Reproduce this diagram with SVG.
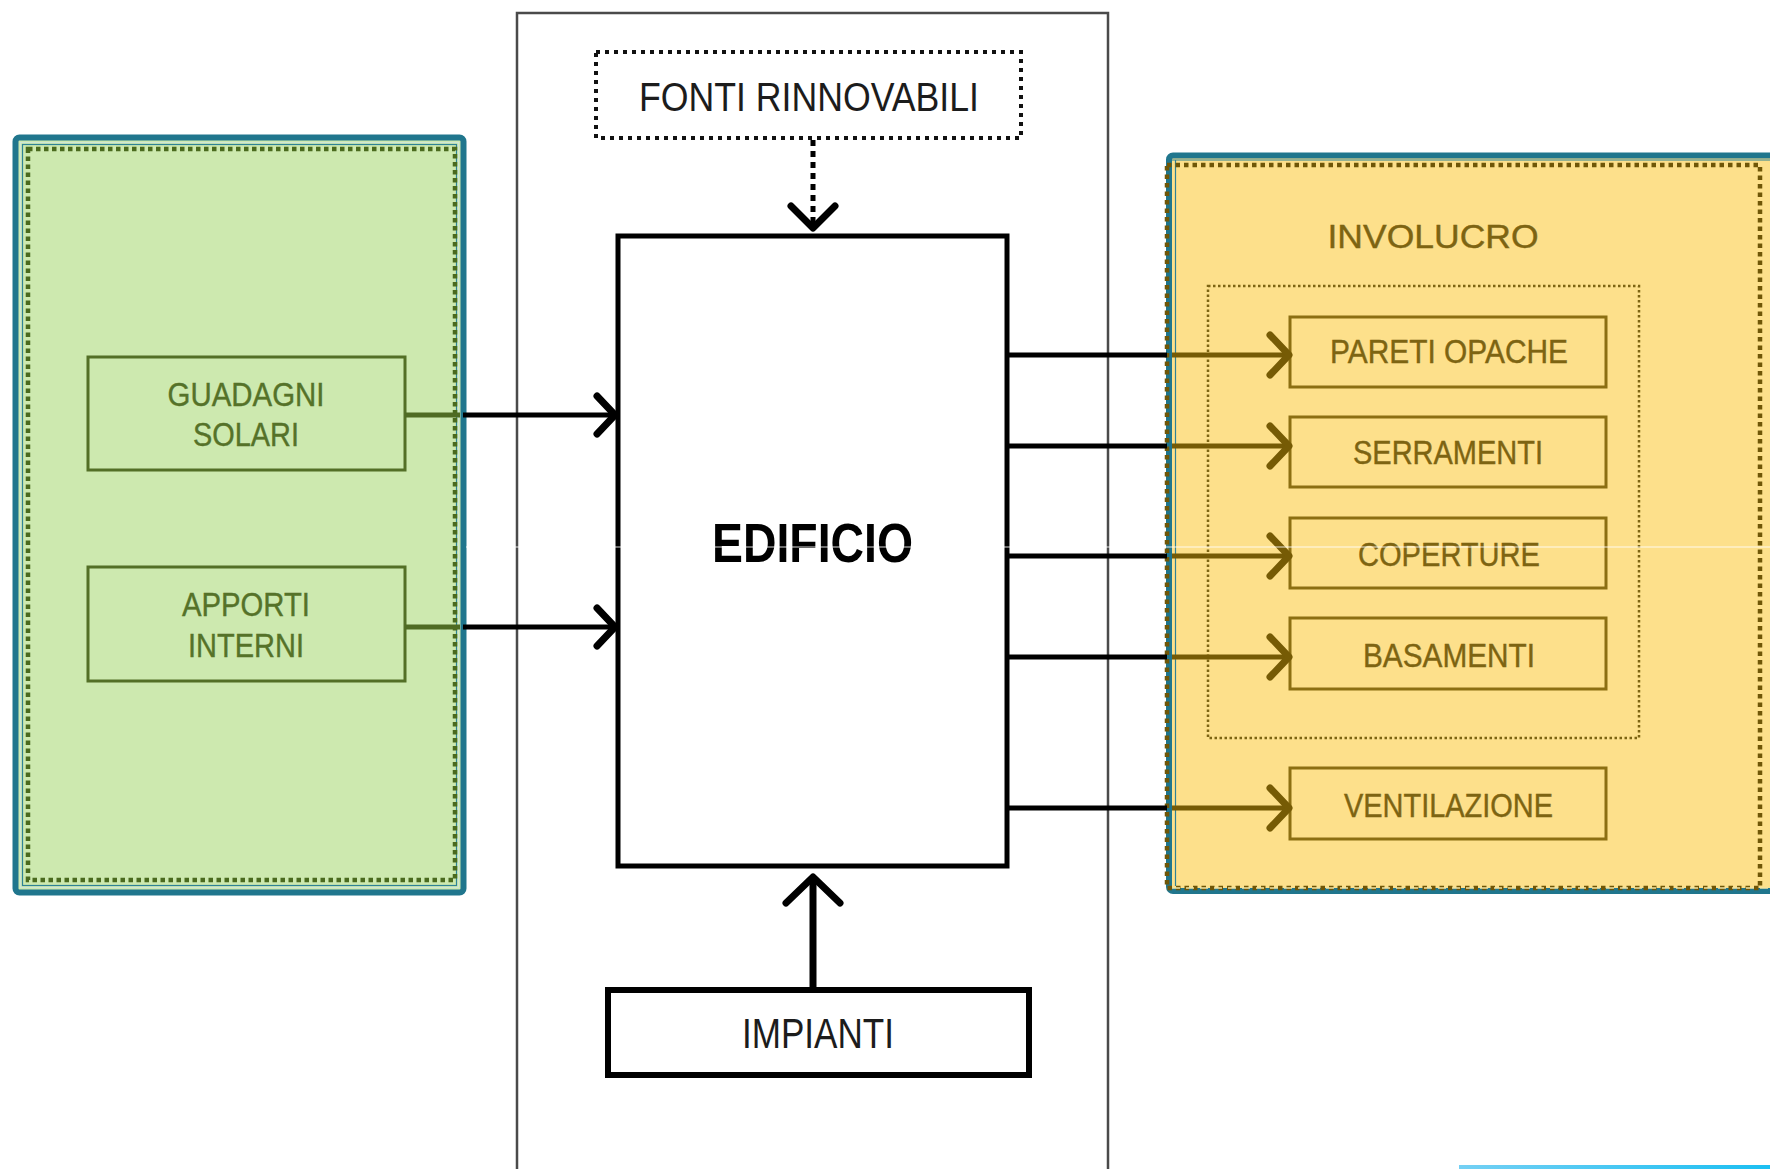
<svg xmlns="http://www.w3.org/2000/svg" width="1770" height="1169" viewBox="0 0 1770 1169">
  <defs>
    <style>
      text { font-family: 'Liberation Sans', Arial, sans-serif; text-anchor: middle; }
      .frame { fill: none; stroke: #4a4a4a; stroke-width: 2.5; }
      .teal { stroke: #20768d; stroke-width: 6; }
      .gbox { fill: none; stroke: #536f26; stroke-width: 3; }
      .gtxt { font-size: 34px; fill: #557229; stroke: #557229; stroke-width: 0.4; }
      .ybox { fill: none; stroke: #8c6f12; stroke-width: 3; }
      .ytxt { font-size: 33px; fill: #7d6412; stroke: #7d6412; stroke-width: 0.4; }
      .btxt { fill: #1c1c1c; }
      .blk { fill: none; stroke: #000; stroke-width: 5; }
      .gline { fill: none; stroke: #4f6b23; stroke-width: 5; }
      .oline { fill: none; stroke: #765b05; stroke-width: 5; }
      .ohead { fill: none; stroke: #765b05; stroke-width: 7; stroke-linecap: round; stroke-linejoin: round; }
      .bhead { fill: none; stroke: #000; stroke-width: 7; stroke-linecap: round; stroke-linejoin: round; }
    </style>
    <linearGradient id="strip" x1="0" y1="0" x2="1" y2="0">
      <stop offset="0" stop-color="#74d0f4"/>
      <stop offset="1" stop-color="#1bbff2"/>
    </linearGradient>
  </defs>

  <rect width="1770" height="1169" fill="#ffffff"/>

  <!-- central frame holding the building system -->
  <rect id="frame" class="frame" x="517" y="13" width="591" height="1170"/>

  <!-- free gains panel (left) -->
  <g id="panel-gains">
    <rect class="teal" x="15.5" y="137.5" width="448" height="755" rx="4" fill="#cde9af"/>
    <rect x="20.5" y="142.5" width="438" height="745" fill="none" stroke="#cfe6d6" stroke-width="1.2"/>
    <rect x="22.5" y="144.5" width="434" height="741" fill="none" stroke="#2f8296" stroke-width="1.2"/>
    <rect x="28" y="149" width="427" height="731" fill="none" stroke="#4a6a1e" stroke-width="4.5" stroke-dasharray="4.5 3.5"/>
  </g>

  <!-- envelope panel (right) -->
  <g id="panel-envelope">
    <rect class="teal" x="1169" y="155.5" width="640" height="735.5" rx="4" fill="#fde08b"/>
    <line x1="1175.5" y1="160" x2="1175.5" y2="886" stroke="#2f8296" stroke-width="1.2"/>
    <line x1="1172" y1="160" x2="1770" y2="160" stroke="#2f8296" stroke-width="1.2"/>
    <path d="M1167 165 H1760 V888 H1167 Z" fill="none" stroke="#6f5607" stroke-width="4.5" stroke-dasharray="4.5 4"/>
    <line x1="1172" y1="888" x2="1770" y2="888" stroke="#f1e3a3" stroke-width="1.5" stroke-dasharray="8 6"/>
  </g>

  <g id="guadagni-solari">
    <rect class="gbox" x="88" y="357" width="317" height="113"/>
    <text class="gtxt" x="246" y="406" textLength="157" lengthAdjust="spacingAndGlyphs">GUADAGNI</text>
    <text class="gtxt" x="246" y="446" textLength="106" lengthAdjust="spacingAndGlyphs">SOLARI</text>
  </g>

  <g id="apporti-interni">
    <rect class="gbox" x="88" y="567" width="317" height="114"/>
    <text class="gtxt" x="246" y="616" textLength="128" lengthAdjust="spacingAndGlyphs">APPORTI</text>
    <text class="gtxt" x="246" y="657" textLength="116" lengthAdjust="spacingAndGlyphs">INTERNI</text>
  </g>

  <g id="fonti-rinnovabili">
    <rect x="596" y="52" width="425" height="86" fill="none" stroke="#111" stroke-width="4" stroke-dasharray="4 5"/>
    <text class="btxt" x="809" y="111" font-size="40" textLength="340" lengthAdjust="spacingAndGlyphs">FONTI RINNOVABILI</text>
  </g>

  <g id="edificio">
    <rect x="618" y="236" width="389" height="630" fill="#ffffff" stroke="#000" stroke-width="5"/>
    <text x="812.5" y="562" font-size="56" font-weight="bold" fill="#000" textLength="201" lengthAdjust="spacingAndGlyphs">EDIFICIO</text>
  </g>

  <g id="impianti">
    <rect x="608" y="990" width="421" height="85" fill="#ffffff" stroke="#000" stroke-width="6"/>
    <text class="btxt" x="818" y="1048" font-size="42" textLength="152" lengthAdjust="spacingAndGlyphs">IMPIANTI</text>
  </g>

  <g id="involucro">
    <text class="ytxt" x="1433" y="248" font-size="39" textLength="211" lengthAdjust="spacingAndGlyphs">INVOLUCRO</text>
    <rect x="1208" y="286" width="431" height="452" fill="none" stroke="#7d6412" stroke-width="2.5" stroke-dasharray="2.5 2.5"/>
  </g>

  <g id="pareti-opache">
    <rect class="ybox" x="1290" y="317" width="316" height="70"/>
    <text class="ytxt" x="1449" y="363" textLength="238" lengthAdjust="spacingAndGlyphs">PARETI OPACHE</text>
  </g>
  <g id="serramenti">
    <rect class="ybox" x="1290" y="417" width="316" height="70"/>
    <text class="ytxt" x="1448" y="464" textLength="190" lengthAdjust="spacingAndGlyphs">SERRAMENTI</text>
  </g>
  <g id="coperture">
    <rect class="ybox" x="1290" y="518" width="316" height="70"/>
    <text class="ytxt" x="1449" y="566" textLength="182" lengthAdjust="spacingAndGlyphs">COPERTURE</text>
  </g>
  <g id="basamenti">
    <rect class="ybox" x="1290" y="618" width="316" height="71"/>
    <text class="ytxt" x="1449" y="667" textLength="172" lengthAdjust="spacingAndGlyphs">BASAMENTI</text>
  </g>
  <g id="ventilazione">
    <rect class="ybox" x="1290" y="768" width="316" height="71"/>
    <text class="ytxt" x="1448.5" y="817" textLength="209" lengthAdjust="spacingAndGlyphs">VENTILAZIONE</text>
  </g>

  <!-- connectors -->
  <g id="connectors">
    <!-- gains into the building -->
    <line class="gline" x1="405" y1="415" x2="460" y2="415"/>
    <line class="blk" x1="463" y1="415" x2="614" y2="415"/>
    <polyline class="bhead" points="597,396 615,415 597,434"/>
    <line class="gline" x1="405" y1="627" x2="460" y2="627"/>
    <line class="blk" x1="463" y1="627" x2="614" y2="627"/>
    <polyline class="bhead" points="597,608 615,627 597,646"/>

    <!-- renewables into the building -->
    <line x1="813" y1="140" x2="813" y2="226" stroke="#000" stroke-width="5" stroke-dasharray="6 5"/>
    <polyline class="bhead" points="791,206 813,228 835,206"/>

    <!-- plant into the building -->
    <line x1="813" y1="988" x2="813" y2="878" stroke="#000" stroke-width="7"/>
    <polyline class="bhead" points="786,903 813,877 840,903"/>

    <!-- building to envelope components -->
    <g>
      <line class="blk" x1="1008" y1="355" x2="1167" y2="355"/>
      <line class="oline" x1="1172" y1="355" x2="1287" y2="355"/>
      <polyline class="ohead" points="1270,335 1289,355 1270,375"/>

      <line class="blk" x1="1008" y1="446" x2="1167" y2="446"/>
      <line class="oline" x1="1172" y1="446" x2="1287" y2="446"/>
      <polyline class="ohead" points="1270,426 1289,446 1270,466"/>

      <line class="blk" x1="1008" y1="556" x2="1167" y2="556"/>
      <line class="oline" x1="1172" y1="556" x2="1287" y2="556"/>
      <polyline class="ohead" points="1270,536 1289,556 1270,576"/>

      <line class="blk" x1="1008" y1="657" x2="1167" y2="657"/>
      <line class="oline" x1="1172" y1="657" x2="1287" y2="657"/>
      <polyline class="ohead" points="1270,637 1289,657 1270,677"/>

      <line class="blk" x1="1008" y1="808" x2="1167" y2="808"/>
      <line class="oline" x1="1172" y1="808" x2="1287" y2="808"/>
      <polyline class="ohead" points="1270,788 1289,808 1270,828"/>
    </g>
  </g>

  <!-- thin light seam across the middle -->
  <line x1="466" y1="547" x2="1770" y2="547" stroke="#ffffff" stroke-width="1.2" stroke-opacity="0.85"/>

  <!-- blue strip along the bottom edge -->
  <rect x="1459" y="1165" width="311" height="4" fill="url(#strip)"/>
</svg>
